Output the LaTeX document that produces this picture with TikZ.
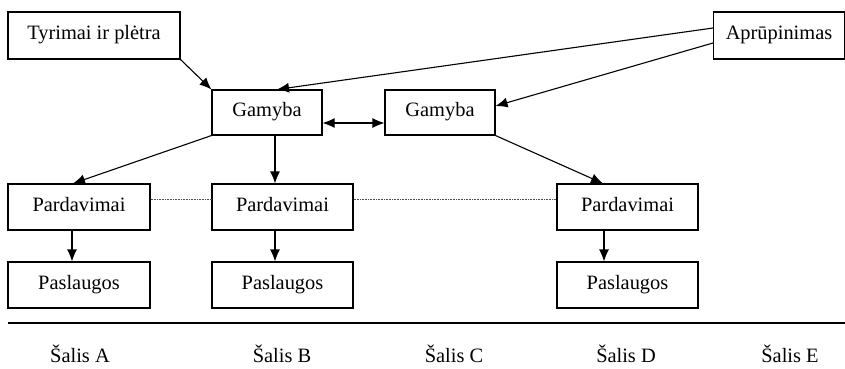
\documentclass[tikz,border=0pt]{standalone}
\usepackage{fontspec}
\setmainfont{Liberation Serif}
\usetikzlibrary{arrows.meta}

\begin{document}
\begin{tikzpicture}[x=1pt, y=-1pt,
  every node/.style = {font=\fontsize{20.4}{24}\selectfont},
  box/.style = {shape=rectangle, draw, line width=1.1pt, inner sep=0pt,
    text height=14pt, text depth=6pt},
  arr/.style = {line width=1.1pt, -{Latex[length=12pt,width=10pt]}},
  link/.style = {densely dotted, line width=0.6pt, draw=black!70}]
  \useasboundingbox (0,0) rectangle (845,368);

  \node[box, minimum width=172pt, minimum height=47pt] (tyrimai) at (94,35.5) {Tyrimai ir plėtra};
  \node[box, minimum width=131pt, minimum height=47pt] (aprup) at (779,35.5) {Aprūpinimas};
  \node[box, minimum width=110pt, minimum height=45pt] (gam1) at (267,112.5) {Gamyba};
  \node[box, minimum width=110pt, minimum height=45pt] (gam2) at (440,112.5) {Gamyba};

  \node[box, minimum width=142pt, minimum height=46pt] (pard1) at (79,207) {Pardavimai};
  \node[box, minimum width=141pt, minimum height=46pt] (pard2) at (282.5,207) {Pardavimai};
  \node[box, minimum width=141pt, minimum height=46pt] (pard3) at (627.5,207) {Pardavimai};
  \node[box, minimum width=142pt, minimum height=46pt] (pasl1) at (79,285) {Paslaugos};
  \node[box, minimum width=141pt, minimum height=46pt] (pasl2) at (282.5,285) {Paslaugos};
  \node[box, minimum width=141pt, minimum height=46pt] (pasl3) at (627.5,285) {Paslaugos};

  \draw[arr] (tyrimai.south east) -- (gam1.north west);
  \draw[arr] ([yshift=7.5pt]aprup.west) -- ([xshift=10pt]gam1.north);
  \draw[arr] ([yshift=-7.5pt]aprup.west) -- ([yshift=6.5pt]gam2.east);
  \draw[arr, {Latex[length=12pt,width=10pt]}-{Latex[length=12pt,width=10pt]}]
    ([yshift=-10.5pt]gam1.east) -- ([yshift=-10.5pt]gam2.west);

  \draw[arr] (gam1.south west) -- ([xshift=-6pt]pard1.north);
  \draw[arr] ([xshift=8pt]gam1.south) -- ([xshift=-7.5pt]pard2.north);
  \draw[arr] (gam2.south east) -- ([xshift=-24.5pt]pard3.north);
  \foreach \i/\s in {1/-7,2/-7.5,3/-23.5}
    \draw[arr] ([xshift=\s pt]pard\i.south) -- ([xshift=\s pt]pasl\i.north);

  \draw[link] ([yshift=8pt]pard1.east) -- ([yshift=8pt]pard2.west);
  \draw[link] ([yshift=8pt]pard2.east) -- ([yshift=8pt]pard3.west);

  % countries
  \draw[line width=1.1pt] (8,323) -- (845,323);
  \node[anchor=base] (salisA) at (80,362) {Šalis A};
  \node[anchor=base] (salisB) at (282,362) {Šalis B};
  \node[anchor=base] (salisC) at (454,362) {Šalis C};
  \node[anchor=base] (salisD) at (626,362) {Šalis D};
  \node[anchor=base] (salisE) at (790,362) {Šalis E};
\end{tikzpicture}
\end{document}
